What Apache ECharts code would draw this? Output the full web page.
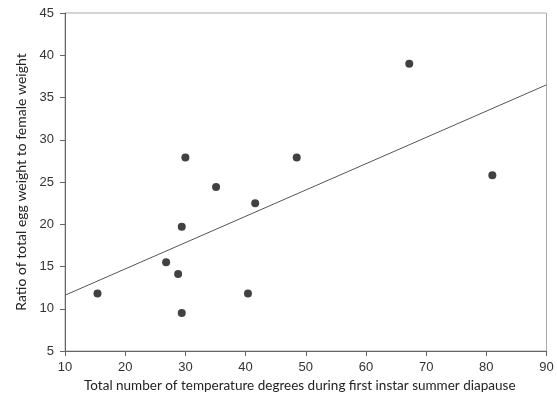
<!DOCTYPE html>
<html>

<head>
    <meta charset="utf-8" />
    <title>ECharts</title>
    <style>
        body {
            margin: 0;
            background: #fff;
        }
    </style>
</head>

<body>
    <div id="main" style="width: 557px;height:402px;"></div>
</body>
<script src="https://cdn.jsdelivr.net/npm/echarts@6/dist/echarts.min.js"></script>
<script type="text/javascript">
    // degree totals (x) and egg/female weight ratio (y)
    var degrees = [15.4, 26.8, 28.8, 29.4, 29.4, 30.0, 35.1, 40.4, 41.6, 48.5, 67.2, 81.0];
    var ratios = [11.8, 15.5, 14.1, 19.7, 9.5, 27.9, 24.4, 11.8, 22.5, 27.9, 39.0, 25.8];

    // regression line end points
    var fitX = [10, 90];
    var fitY = [11.6, 36.5];

    var xTicks = [10, 90, 10]; // min, max, interval
    var yTicks = [5, 45, 5];

    var narrow = "Lato, sans-serif";

    var chartDom = document.getElementById('main');
    var myChart = echarts.init(chartDom);
    var option;

    option = {
        animation: false,
        grid: {
            left: 65,
            right: 10.5,
            top: 13,
            bottom: 51,
            containLabel: false,
            outerBoundsMode: 'none',
            show: true,
            borderColor: '#aaa',
            borderWidth: 1
        },
        xAxis: {
            type: 'value',
            min: xTicks[0],
            max: xTicks[1],
            interval: xTicks[2],
            name: 'Total number of temperature degrees during first instar summer diapause',
            nameLocation: 'middle',
            nameGap: 25,
            nameTextStyle: {
                fontFamily: narrow,
                fontSize: 13.5,
                color: '#222',
                padding: [0, 12, 0, 0]
            },
            axisLine: { lineStyle: { color: '#666' } },
            axisTick: { show: true, length: 5, lineStyle: { color: '#666' } },
            axisLabel: {
                fontFamily: 'Liberation Sans',
                fontSize: 13,
                color: '#333',
                margin: 10
            },
            splitLine: { show: false }
        },
        yAxis: {
            type: 'value',
            min: yTicks[0],
            max: yTicks[1],
            interval: yTicks[2],
            name: 'Ratio of total egg weight to female weight',
            nameLocation: 'middle',
            nameGap: 37,
            nameTextStyle: {
                fontFamily: narrow,
                fontSize: 14,
                color: '#222'
            },
            axisLine: { show: true, lineStyle: { color: '#666' } },
            axisTick: { show: true, length: 5, lineStyle: { color: '#666' } },
            axisLabel: {
                fontFamily: 'Liberation Sans',
                fontSize: 13,
                color: '#333',
                margin: 11
            },
            splitLine: { show: false }
        },
        series: [
            {
                type: 'line',
                data: fitX.map(function (x, i) {
                    return [x, fitY[i]];
                }),
                symbol: 'none',
                lineStyle: { color: '#555', width: 1 },
                silent: true,
                z: 1
            },
            {
                type: 'scatter',
                data: degrees.map(function (x, i) {
                    return [x, ratios[i]];
                }),
                symbolSize: 8,
                itemStyle: { color: '#111' },
                z: 2
            }
        ]
    };

    option && myChart.setOption(option);
</script>

</html>
